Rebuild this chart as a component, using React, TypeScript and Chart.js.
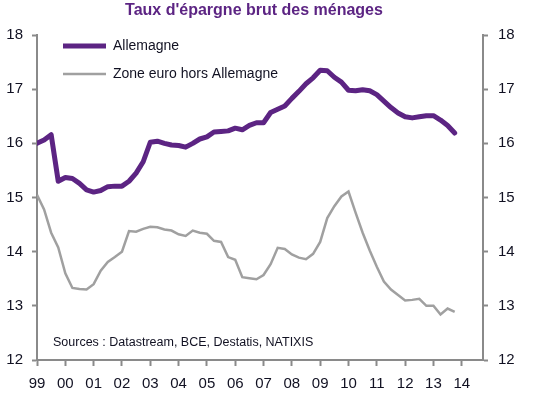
import { useEffect, useRef } from 'react';
import { Chart, registerables } from 'chart.js';

Chart.register(...registerables);

const TITLE = "Taux d'épargne brut des ménages";
const SOURCE = 'Sources : Datastream, BCE, Destatis, NATIXIS';
const seriesNames = ['Allemagne', 'Zone euro hors Allemagne'];
const yearLabels = ['99', '00', '01', '02', '03', '04', '05', '06', '07', '08', '09', '10', '11', '12', '13', '14'];

// Quarterly values, 1999 Q1 -> 2013 Q4
const allemagne = [
  16.0, 16.06, 16.16, 15.3, 15.37, 15.35, 15.26, 15.14, 15.1, 15.13,
  15.2, 15.21, 15.21, 15.3, 15.45, 15.66, 16.02, 16.04, 16.0, 15.97,
  15.96, 15.93, 16.0, 16.08, 16.12, 16.21, 16.22, 16.23, 16.28, 16.25,
  16.33, 16.38, 16.38, 16.57, 16.63, 16.69, 16.83, 16.96, 17.1, 17.21,
  17.35, 17.34, 17.22, 17.13, 16.98, 16.97, 16.99, 16.97, 16.9, 16.78,
  16.66, 16.56, 16.49, 16.47, 16.49, 16.51, 16.51, 16.43, 16.33, 16.19,
];
const zoneEuro = [
  15.05, 14.78, 14.35, 14.08, 13.6, 13.33, 13.31, 13.3, 13.4, 13.65,
  13.81, 13.9, 14.0, 14.38, 14.37, 14.42, 14.46, 14.45, 14.41, 14.39,
  14.32, 14.29, 14.39, 14.35, 14.33, 14.2, 14.18, 13.9, 13.85, 13.53,
  13.51, 13.49, 13.57, 13.77, 14.07, 14.05, 13.95, 13.89, 13.86, 13.96,
  14.18, 14.62, 14.84, 15.02, 15.11, 14.72, 14.35, 14.02, 13.72, 13.45,
  13.3, 13.2, 13.1, 13.11, 13.13, 13.0, 13.0, 12.84, 12.95, 12.89,
];

const FONT = "'Liberation Sans', Arial, sans-serif";
const PURPLE = '#5c2483';
const GREY_LINE = '#a0a0a0';
const AXIS = '#8a8a8a';
const TEXT = '#111122';

const overlayPlugin = {
  id: 'overlay',
  afterDraw(chart: any) {
    const ctx = chart.ctx;
    ctx.save();
    // Title
    ctx.fillStyle = PURPLE;
    ctx.font = `bold 16px ${FONT}`;
    ctx.textAlign = 'center';
    ctx.textBaseline = 'alphabetic';
    ctx.fillText(TITLE, 254, 15);
    // Legend
    const items = [
      { label: seriesNames[0], color: PURPLE, width: 5, y: 46 },
      { label: seriesNames[1], color: GREY_LINE, width: 2.5, y: 74 },
    ];
    items.forEach((it) => {
      ctx.strokeStyle = it.color;
      ctx.lineWidth = it.width;
      ctx.lineCap = 'butt';
      ctx.beginPath();
      ctx.moveTo(63, it.y);
      ctx.lineTo(106, it.y);
      ctx.stroke();
      ctx.fillStyle = TEXT;
      ctx.font = `14px ${FONT}`;
      ctx.textAlign = 'left';
      ctx.textBaseline = 'middle';
      ctx.fillText(it.label, 113, it.y);
    });
    // Source
    ctx.font = `12.5px ${FONT}`;
    ctx.fillStyle = TEXT;
    ctx.textAlign = 'left';
    ctx.textBaseline = 'middle';
    ctx.fillText(SOURCE, 53, 343);
    ctx.restore();
  },
};

function yAxis(position: 'left' | 'right', width: number, padding: number) {
  return {
    type: 'linear',
    position,
    min: 12,
    max: 18,
    afterFit: (s: any) => {
      s.width = width;
    },
    grid: {
      drawOnChartArea: false,
      drawTicks: true,
      tickLength: 5,
      tickWidth: 2,
      tickColor: AXIS,
    },
    border: { color: AXIS, width: 2 },
    ticks: {
      stepSize: 1,
      padding,
      color: TEXT,
      font: { family: FONT, size: 15 },
    },
  };
}

export default function App() {
  const ref = useRef<HTMLCanvasElement | null>(null);

  useEffect(() => {
    document.body.style.margin = '0';
    if (!ref.current) return;
    const chart = new Chart(ref.current, {
      type: 'line',
      data: {
        datasets: [
          {
            label: seriesNames[1],
            data: zoneEuro.map((v, i) => ({ x: i, y: v })),
            borderColor: GREY_LINE,
            borderWidth: 2.5,
            pointRadius: 0,
            tension: 0,
            yAxisID: 'y',
            order: 2,
          },
          {
            label: seriesNames[0],
            data: allemagne.map((v, i) => ({ x: i, y: v })),
            borderColor: PURPLE,
            borderWidth: 5,
            pointRadius: 0,
            tension: 0,
            borderJoinStyle: 'round',
            borderCapStyle: 'round',
            yAxisID: 'y',
            order: 1,
          },
        ],
      },
      options: {
        responsive: false,
        animation: false,
        devicePixelRatio: 1,
        layout: { padding: { top: 35, left: 0, right: 0, bottom: 0 } },
        plugins: {
          legend: { display: false },
          title: { display: false },
          tooltip: { enabled: false },
        },
        scales: {
          x: {
            type: 'linear',
            min: 0,
            max: 63,
            afterBuildTicks: (s: any) => {
              s.ticks = yearLabels.map((_, i) => ({ value: i * 4 }));
            },
            afterFit: (s: any) => {
              s.height = 33;
            },
            grid: {
              drawOnChartArea: false,
              drawTicks: true,
              tickLength: 6,
              tickWidth: 2,
              tickColor: AXIS,
            },
            border: { color: AXIS, width: 2 },
            ticks: {
              autoSkip: false,
              maxRotation: 0,
              padding: 9,
              color: TEXT,
              font: { family: FONT, size: 15 },
              callback: (v: any) => yearLabels[Math.round(Number(v) / 4)],
            },
          },
          y: yAxis('left', 37, 9) as any,
          y2: yAxis('right', 54, 10) as any,
        },
      },
      plugins: [overlayPlugin],
    } as any);
    return () => chart.destroy();
  }, []);

  return (
    <div style={{ width: 537, height: 393 }}>
      <canvas ref={ref} width={537} height={393} style={{ display: 'block' }} />
    </div>
  );
}
